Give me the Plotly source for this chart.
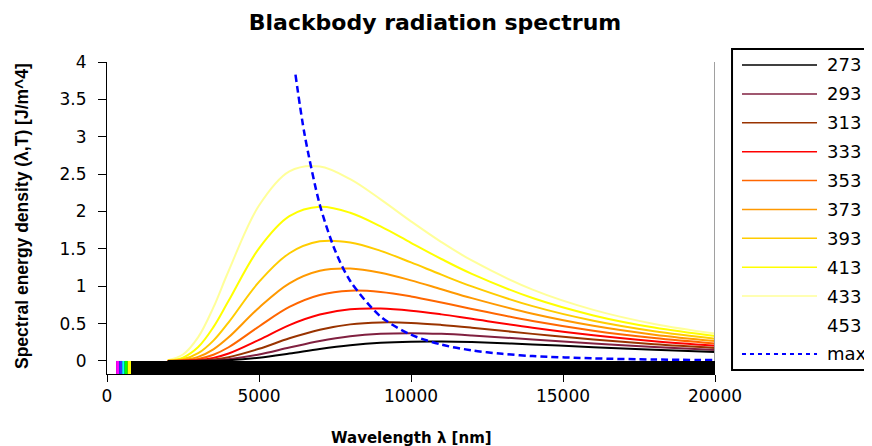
import plotly.graph_objects as go

# ---------------- data ----------------
wavelength_nm = [2000, 2500, 3000, 3500, 4000, 5000, 6000, 7000, 8000, 9000,
                 10000, 11000, 12000, 14000, 16000, 18000, 20000]

temps = ["273", "293", "313", "333", "353", "373", "393", "413", "433", "453"]

u_273 = [0.000, 0.000, 0.000, 0.003, 0.009, 0.042, 0.098, 0.160, 0.210, 0.243, 0.258, 0.260, 0.252, 0.220, 0.184, 0.149, 0.121]
u_293 = [0.000, 0.000, 0.002, 0.008, 0.023, 0.087, 0.179, 0.267, 0.330, 0.363, 0.371, 0.362, 0.341, 0.287, 0.232, 0.185, 0.147]
u_313 = [0.000, 0.001, 0.005, 0.019, 0.050, 0.162, 0.303, 0.418, 0.489, 0.515, 0.509, 0.482, 0.445, 0.362, 0.285, 0.223, 0.174]
u_333 = [0.000, 0.002, 0.011, 0.041, 0.099, 0.282, 0.480, 0.621, 0.691, 0.701, 0.673, 0.623, 0.563, 0.445, 0.343, 0.264, 0.204]
u_353 = [0.000, 0.004, 0.026, 0.083, 0.183, 0.461, 0.722, 0.882, 0.940, 0.923, 0.863, 0.782, 0.695, 0.534, 0.405, 0.307, 0.234]
u_373 = [0.001, 0.010, 0.054, 0.155, 0.316, 0.713, 1.039, 1.206, 1.237, 1.180, 1.078, 0.959, 0.840, 0.631, 0.470, 0.351, 0.265]
u_393 = [0.002, 0.022, 0.103, 0.272, 0.516, 1.057, 1.441, 1.600, 1.585, 1.473, 1.318, 1.154, 0.997, 0.733, 0.538, 0.398, 0.298]
u_413 = [0.004, 0.045, 0.186, 0.452, 0.804, 1.507, 1.938, 2.064, 1.983, 1.800, 1.581, 1.364, 1.165, 0.841, 0.609, 0.446, 0.332]
u_433 = [0.010, 0.086, 0.318, 0.716, 1.203, 2.079, 2.537, 2.603, 2.432, 2.162, 1.868, 1.590, 1.344, 0.954, 0.683, 0.495, 0.366]
u_453 = [0.020, 0.156, 0.519, 1.089, 1.738, 2.791, 3.243, 3.217, 2.932, 2.556, 2.177, 1.830, 1.531, 1.071, 0.759, 0.546, 0.401]

max_wavelength_nm = [6200, 6500, 7000, 7500, 8000, 9000, 10000, 11000, 12000, 13000, 14000, 16000, 18000, 20000]
max_values = [3.83, 3.03, 2.09, 1.48, 1.07, 0.594, 0.351, 0.218, 0.141, 0.095, 0.065, 0.034, 0.019, 0.011]

# visible-spectrum strip on the axis (wavelength bands, nm)
band_start = [300, 400, 500, 580, 680]
band_end = [400, 500, 580, 680, 790]
band_colors = ["#FF00FF", "#3333FF", "#00FFFF", "#00FF00", "#FFFF00"]
strip_start, strip_end = 300, 20000

x_ticks = [0, 5000, 10000, 15000, 20000]
y_ticks = [0, 0.5, 1, 1.5, 2, 2.5, 3, 3.5, 4]

# ---------------- styles ----------------
series = [u_273, u_293, u_313, u_333, u_353, u_373, u_393, u_413, u_433, u_453]
colors = ["#000000", "#802040", "#993300", "#FF0000", "#FF6600",
          "#FF9900", "#FFCC00", "#FFFF00", "#FFFF99", "#FFFFFF"]
MAX_COLOR = "#0000FF"
DASH = "7px,4px"
TICK_FONT = dict(family="DejaVu Sans", size=17, color="black")

# the page body adds an 8px offset; size the figure to fit inside the window
W, H = 864, 438

fig = go.Figure()

# draw hottest (white) first so it hides under the others
order = list(range(len(series)))[::-1]
for i in order:
    fig.add_trace(go.Scatter(
        x=wavelength_nm, y=series[i], mode="lines", name=temps[i],
        line=dict(color=colors[i], width=2, shape="spline", smoothing=1.0),
        showlegend=False, hoverinfo="skip"))

fig.add_trace(go.Scatter(
    x=max_wavelength_nm, y=max_values, mode="lines", name="max",
    line=dict(color=MAX_COLOR, width=2.5, dash=DASH, shape="spline", smoothing=0.8),
    showlegend=False, hoverinfo="skip"))

shapes = []
# black strip along the bottom
shapes.append(dict(type="rect", xref="x", yref="y", x0=strip_start, x1=strip_end,
                   y0=-0.175, y1=0, fillcolor="black", line=dict(width=0), layer="above"))
for s, e, c in zip(band_start, band_end, band_colors):
    shapes.append(dict(type="rect", xref="x", yref="y", x0=s, x1=e, y0=-0.175, y1=0,
                       fillcolor=c, line=dict(width=0), layer="above"))
# grey right border of plot area
shapes.append(dict(type="line", xref="x", yref="y", x0=x_ticks[-1], x1=x_ticks[-1],
                   y0=0, y1=y_ticks[-1], line=dict(color="#A0A0A0", width=2)))

# manual legend
shapes.append(dict(type="rect", xref="paper", yref="paper", x0=1.028, x1=1.32,
                   y0=0.0128, y1=1.0417, line=dict(color="black", width=2),
                   fillcolor="rgba(0,0,0,0)"))
annotations = []
leg_names = temps + ["max"]
leg_colors = colors + [MAX_COLOR]
leg_dash = ["solid"] * len(temps) + ["4px,4px"]
y0_leg, step = 0.9904, 0.0926
for i, (nm, col, ds) in enumerate(zip(leg_names, leg_colors, leg_dash)):
    yy = y0_leg - i * step
    shapes.append(dict(type="line", xref="paper", yref="paper", x0=1.0444, x1=1.1678,
                       y0=yy, y1=yy, line=dict(color=col, width=1.5 if ds == "solid" else 2, dash=ds)))
    annotations.append(dict(text=nm, xref="paper", yref="paper", x=1.181, y=yy,
                            xanchor="left", yanchor="middle", showarrow=False,
                            font=dict(family="DejaVu Sans", size=18, color="black")))

# axis titles
annotations.append(dict(text="<b>Wavelength λ [nm]</b>", xref="paper", yref="paper",
                        x=0.5, y=-0.205, xanchor="center", yanchor="middle", showarrow=False,
                        font=dict(family="DejaVu Sans", size=15, color="black")))
annotations.append(dict(text="<b>Spectral energy density (λ,T) [J/m^4]</b>", xref="paper",
                        yref="paper", x=-0.14, y=0.506, xanchor="center", yanchor="middle",
                        textangle=-90, showarrow=False,
                        font=dict(family="Liberation Sans", size=17.5, color="black")))

fig.update_layout(
    width=W, height=H,
    margin=dict(l=99, r=157, t=54, b=72),
    paper_bgcolor="white", plot_bgcolor="white",
    title=dict(text="<b>Blackbody radiation spectrum</b>", x=427 / W, xref="container",
               y=1 - 14 / H, yref="container", xanchor="center", yanchor="middle",
               font=dict(family="DejaVu Sans", size=22, color="black")),
    shapes=shapes, annotations=annotations,
    showlegend=False,
)
fig.update_xaxes(range=[x_ticks[0], x_ticks[-1]], tickvals=x_ticks, tickformat="d",
                 showline=True, linecolor="black", linewidth=1, ticks="outside",
                 ticklen=7, tickcolor="black", showgrid=False, zeroline=False,
                 tickfont=TICK_FONT)
fig.update_yaxes(range=[-0.175, 4], tickvals=y_ticks,
                 showline=True, linecolor="black", linewidth=1, ticks="outside",
                 ticklen=8, tickcolor="black", showgrid=False, zeroline=False,
                 tickfont=TICK_FONT, ticklabelstandoff=8)

fig.write_html("out.html")
